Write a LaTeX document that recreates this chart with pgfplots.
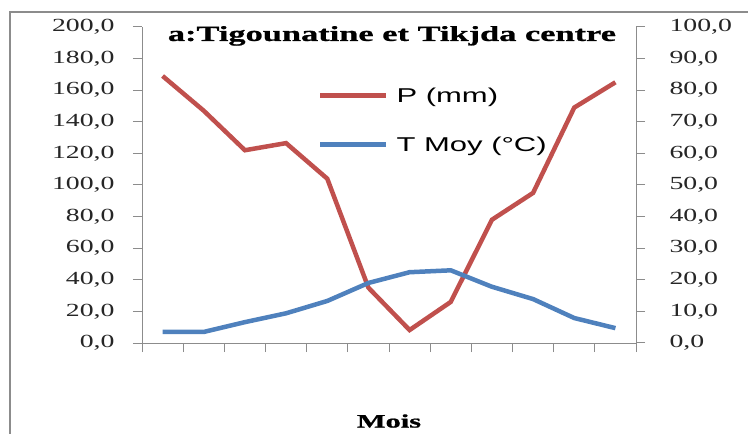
\documentclass[border=0pt]{standalone}
\usepackage{fontspec}
\setmainfont{Liberation Serif}[FakeStretch=1.5]
\newfontfamily\legfont{Liberation Sans}[FakeStretch=1.55]
\newfontfamily\titlefont{Liberation Serif}[UprightFont={* Bold}, FakeStretch=1.6, FakeBold=1]
\usepackage{pgfplots}
\pgfplotsset{compat=1.18}
\definecolor{pred}{HTML}{C0504D}
\definecolor{tblue}{HTML}{4F81BD}
\definecolor{axgray}{HTML}{8C8C8C}

\begin{document}
\begin{tikzpicture}
\useasboundingbox (0,0) rectangle (748bp,434bp);
\draw[axgray, line width=1.5bp] (10bp,0) -- (10bp,422bp) -- (748bp,422bp);

\pgfplotsset{
  mybase/.style={
    scale only axis, width=494bp, height=316bp,
    at={(142bp,91bp)}, anchor=south west,
    xmin=0.5, xmax=12.5,
    axis line style={axgray, line width=1bp},
    tick style={axgray, line width=1bp},
    tick align=outside, major tick length=9bp,
    /pgf/number format/.cd, fixed, fixed zerofill, precision=1, use comma, 1000 sep={}, assume math mode=true,
  }
}

\begin{axis}[mybase,
  axis x line*=bottom, axis y line*=left,
  ymin=0, ymax=200, ytick={0,20,...,200},
  xtick={0.5,1.5,...,12.5}, xticklabels={},
  xlabel={\titlefont Mois}, xlabel style={font=\fontsize{19bp}{22bp}\selectfont, yshift=-52bp},
  yticklabel style={font=\fontsize{18.5bp}{21bp}\selectfont, text=black!85, xshift=-15bp},
]
\addplot[pred, line width=4.5bp] coordinates {
(1,169) (2,147) (3,122) (4,126.5) (5,104) (6,35)
(7,8.2) (8,26) (9,78) (10,95) (11,149) (12,165)
};
\end{axis}

\begin{axis}[mybase,
  axis x line=none, axis y line*=right,
  ymin=0, ymax=100, ytick={0,10,...,100},
  yticklabel style={font=\fontsize{18.5bp}{21bp}\selectfont, text=black!85, xshift=21bp},
  legend style={draw=none, fill=none, at={(0.356,0.815)}, anchor=north west,
    font=\legfont\fontsize{20bp}{23bp}\selectfont, row sep=29bp, inner sep=0pt,
    nodes={inner xsep=8bp}},
  legend cell align=left,
  legend image code/.code={\draw[#1] (0bp,0bp) -- (66bp,0bp);},
]
\addlegendimage{pred, line width=4.5bp}
\addlegendentry{P (mm)}
\addplot[tblue, line width=4.5bp] coordinates {
(1,3.5) (2,3.5) (3,6.6) (4,9.4) (5,13.3) (6,19)
(7,22.4) (8,23) (9,17.8) (10,13.9) (11,7.9) (12,4.7)
};
\addlegendentry{T Moy (°C)}
\node[font=\titlefont\fontsize{21.5bp}{24bp}\selectfont] at (rel axis cs:0.506,0.972) {a:Tigounatine et Tikjda centre};
\end{axis}
\end{tikzpicture}
\end{document}
